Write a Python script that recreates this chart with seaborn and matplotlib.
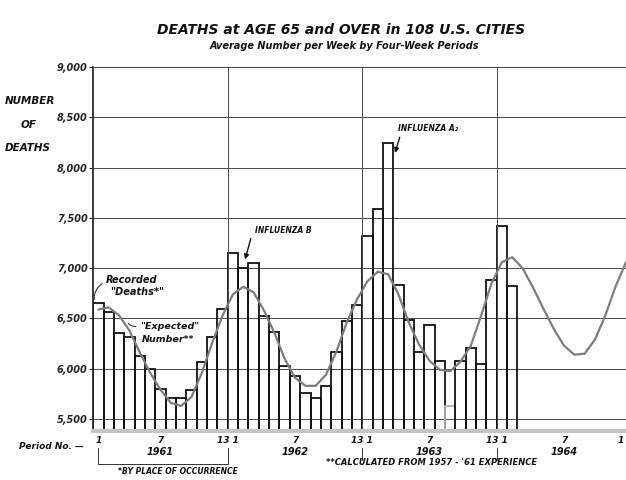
import matplotlib
matplotlib.use("Agg")
import matplotlib.pyplot as plt
import matplotlib.transforms as mtransforms
import numpy as np
import pandas as pd
import seaborn as sns

sns.set_theme(style="white")
plt.rcParams["font.family"] = ["DejaVu Sans"]

# Recorded deaths, average number per week, by four-week period
recorded_1961 = [6650, 6560, 6360, 6320, 6130, 6000, 5800, 5710, 5710, 5790, 6070, 6320, 6590]
recorded_1962 = [7150, 7000, 7050, 6520, 6370, 6030, 5930, 5760, 5710, 5830, 6170, 6470, 6630]
recorded_1963 = [7320, 7590, 8250, 6830, 6480, 6170, 6440, 6080, 5630, 6080, 6210, 6050, 6880]
recorded_1964 = [7420, 6820]

# "Expected" number (calculated from 1957-'61 experience), 1961 p1 .. 1965 p1
expected_1961 = [6590, 6610, 6530, 6380, 6160, 5960, 5790, 5660, 5630, 5720, 5960, 6260, 6530]
expected_1962 = [6740, 6815, 6760, 6580, 6360, 6100, 5910, 5830, 5830, 5940, 6170, 6460, 6690]
expected_1963 = [6870, 6965, 6940, 6740, 6460, 6240, 6080, 5990, 5975, 6070, 6230, 6530, 6850]
expected_1964 = [7060, 7110, 7000, 6810, 6600, 6400, 6230, 6140, 6150, 6290, 6530, 6820, 7060]
expected_1965 = [7200]

years = ["1961", "1962", "1963", "1964"]
y_ticks = [5500, 6000, 6500, 7000, 7500, 8000, 8500, 9000]
faint_period = 34  # 1963 period 9 is printed in light grey

recorded = recorded_1961 + recorded_1962 + recorded_1963 + recorded_1964
expected = expected_1961 + expected_1962 + expected_1963 + expected_1964 + expected_1965
n_per_year = 13

bold_it = dict(fontweight="bold", fontstyle="italic", color="#111111")

fig = plt.figure(figsize=(6.26, 4.8), dpi=100)
ax = fig.add_axes([0.149, 0.102, 0.851, 0.758])

df = pd.DataFrame({"period": np.arange(len(recorded)), "deaths": recorded})
sns.barplot(data=df, x="period", y="deaths", native_scale=True, width=1,
            color="white", edgecolor="#111111", linewidth=1.3, saturation=1,
            errorbar=None, ax=ax)
for i, p in enumerate(ax.patches):
    p.set_facecolor((1, 1, 1, 0))
    if i == faint_period:
        p.set_edgecolor("#b0b0b0")

sns.lineplot(x=np.arange(len(expected)), y=expected, color="#7d7d7d",
             lw=1.6, ax=ax, zorder=4)
ax.lines[-1].set_solid_joinstyle("round")

ax.set_xlim(-0.5, 51.0)
ax.set_ylim(5380, 9000)
ax.set_yticks(y_ticks)
ax.set_yticklabels([f"{v:,}" for v in y_ticks])
ax.set_xticks([])
ax.set_xlabel("")
ax.set_ylabel("")
ax.grid(axis="y", color="#4a4a4a", lw=0.7)
for k in range(1, 4):
    ax.axvline(k * n_per_year - 0.5, color="#4a4a4a", lw=0.7, zorder=1)
ax.tick_params(axis="y", length=3, width=0.8, pad=1, labelsize=7, left=True)
for lbl in ax.get_yticklabels():
    lbl.set_fontweight("bold")
    lbl.set_fontstyle("italic")
ax.spines["right"].set_visible(False)
ax.spines["left"].set_color("#222222")
ax.spines["top"].set_color("#4a4a4a")
ax.spines["top"].set_linewidth(0.8)
ax.spines["bottom"].set_color("#c4c4c4")
ax.spines["bottom"].set_linewidth(3)

# titles
fig.text(0.545, 0.938, "DEATHS at AGE 65 and OVER in 108 U.S. CITIES",
         ha="center", va="center", fontsize=10, **bold_it)
fig.text(0.55, 0.905, "Average Number per Week by Four-Week Periods",
         ha="center", va="center", fontsize=7, **bold_it)

# y axis caption
fig.text(0.008, 0.79, "NUMBER", ha="left", va="center", fontsize=7.5, **bold_it)
fig.text(0.033, 0.74, "OF", ha="left", va="center", fontsize=7.5, **bold_it)
fig.text(0.008, 0.692, "DEATHS", ha="left", va="center", fontsize=7.5, **bold_it)

# period / year labels under the axis
trans = mtransforms.blended_transform_factory(ax.transData, fig.transFigure)
fig.text(0.03, 0.07, "Period No. \u2014", ha="left", va="center", fontsize=6.5, **bold_it)
ax.text(0, 0.083, "1", transform=trans, ha="center", va="center", fontsize=6.5, **bold_it)
for k, yr in enumerate(years):
    ax.text(k * n_per_year + 6, 0.083, "7", transform=trans, ha="center",
            va="center", fontsize=6.5, **bold_it)
    ax.text(k * n_per_year + 6, 0.058, yr, transform=trans, ha="center",
            va="center", fontsize=7, **bold_it)
    if k < 3:
        ax.text((k + 1) * n_per_year - 0.5, 0.083, "13 1", transform=trans,
                ha="center", va="center", fontsize=6.5, **bold_it)
        ax.plot([(k + 1) * n_per_year - 0.5] * 2, [0.066, 0.042], transform=trans,
                color="#333333", lw=0.7, clip_on=False)
# the next "13" is cut by the right edge of the sheet; only its "1" shows
fig.text(0.997, 0.083, "1", ha="right", va="center", fontsize=6.5, **bold_it)
ax.plot([0, 0, n_per_year - 0.5, n_per_year - 0.5], [0.066, 0.034, 0.034, 0.05],
        transform=trans, color="#333333", lw=0.7, clip_on=False)

# footnotes
fig.text(0.285, 0.018, "*BY PLACE OF OCCURRENCE", ha="center", va="center",
         fontsize=5.5, **bold_it)
fig.text(0.69, 0.037, "**CALCULATED FROM 1957 - '61 EXPERIENCE", ha="center",
         va="center", fontsize=6, **bold_it)

# annotations
ax.text(0.7, 6880, "Recorded", fontsize=7, ha="left", va="center", **bold_it)
ax.text(1.1, 6760, "\"Deaths*\"", fontsize=7, ha="left", va="center", **bold_it)
ax.annotate("", xy=(-0.4, 6660), xytext=(0.6, 6860),
            arrowprops=dict(arrowstyle="-", color="#333333", lw=0.8,
                            connectionstyle="arc3,rad=0.35"))
ax.text(4.0, 6420, "\"Expected\"", fontsize=6.8, ha="left", va="center", **bold_it)
ax.text(4.2, 6290, "Number**", fontsize=6.8, ha="left", va="center", **bold_it)
ax.annotate("", xy=(2.7, 6470), xytext=(3.9, 6420),
            arrowprops=dict(arrowstyle="-", color="#333333", lw=0.8,
                            connectionstyle="arc3,rad=-0.3"))
ax.text(15.1, 7380, "INFLUENZA B", fontsize=5.5, ha="left", va="center", **bold_it)
ax.annotate("", xy=(14.1, 7060), xytext=(14.8, 7320),
            arrowprops=dict(arrowstyle="-|>", color="#111111", lw=1.0,
                            mutation_scale=7))
ax.text(29.0, 8390, "INFLUENZA A\u2082", fontsize=5.5, ha="left", va="center", **bold_it)
ax.annotate("", xy=(28.6, 8120), xytext=(29.2, 8330),
            arrowprops=dict(arrowstyle="-|>", color="#111111", lw=1.0,
                            mutation_scale=7))

fig.savefig("out.png", dpi=100)
